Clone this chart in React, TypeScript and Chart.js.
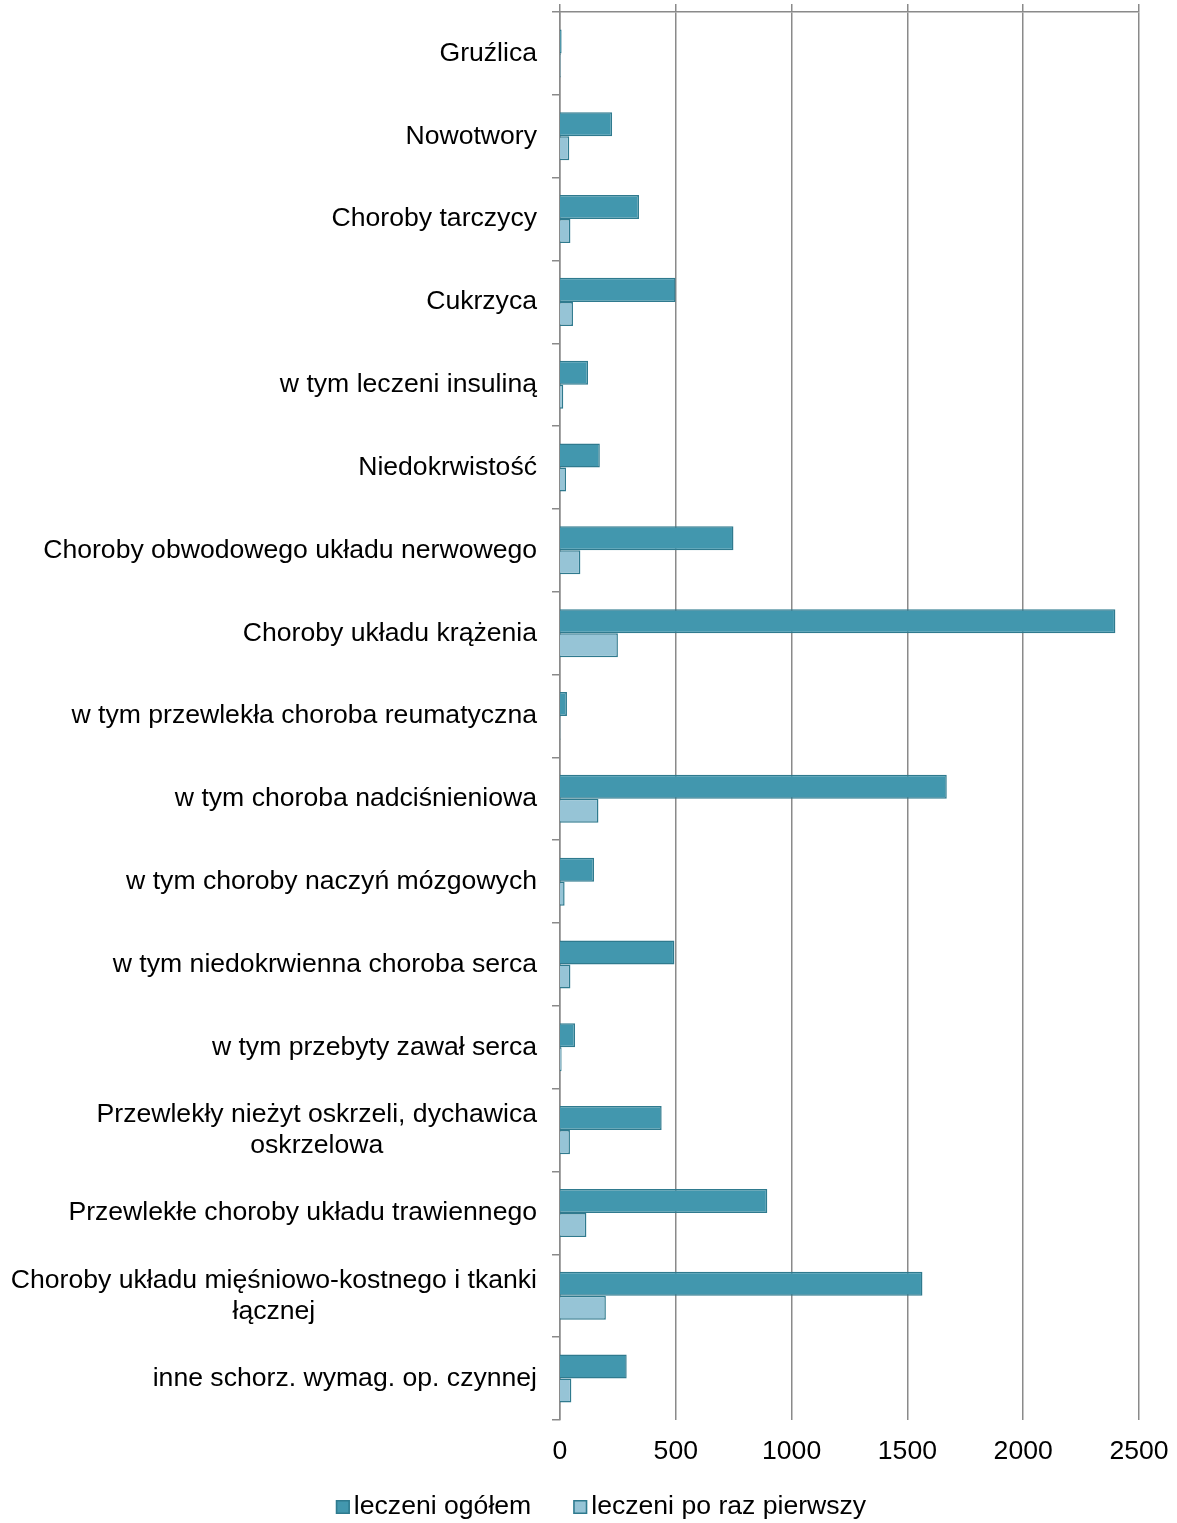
import React, { useEffect, useRef } from "react";
import { Chart, registerables } from "chart.js";

Chart.register(...registerables);

const categories: (string | string[])[] = [
  "Gruźlica",
  "Nowotwory",
  "Choroby tarczycy",
  "Cukrzyca",
  "w tym leczeni insuliną",
  "Niedokrwistość",
  "Choroby obwodowego układu nerwowego",
  "Choroby układu krążenia",
  "w tym przewlekła choroba reumatyczna",
  "w tym choroba nadciśnieniowa",
  "w tym choroby naczyń mózgowych",
  "w tym niedokrwienna choroba serca",
  "w tym przebyty zawał serca",
  ["Przewlekły nieżyt oskrzeli, dychawica", "oskrzelowa"],
  "Przewlekłe choroby układu trawiennego",
  ["Choroby układu mięśniowo-kostnego i tkanki", "łącznej"],
  "inne schorz. wymag. op. czynnej",
];

const leczeniOgolem = [7, 225, 341, 499, 121, 172, 749, 2398, 30, 1670, 147, 494, 65, 439, 895, 1565, 288];
const leczeniPoRazPierwszy = [3, 40, 45, 56, 14, 26, 88, 250, 2, 166, 20, 45, 7, 43, 114, 198, 49];

const seriesNames = ["leczeni ogółem", "leczeni po raz pierwszy"];
const xTicks = [0, 500, 1000, 1500, 2000, 2500];

const DARK = "#4297ae";
const LIGHT = "#96c4d6";
const BORDER = "#2f7a8e";
const GRID = "#8a8a8a";
const FONT = "'Liberation Sans', Arial, sans-serif";
const FSIZE = 26.6;

const labelPlugin = {
  id: "customLabels",
  afterDraw(chart: any) {
    const ctx = chart.ctx;
    const yScale = chart.scales.y;
    ctx.save();
    ctx.font = `${FSIZE}px ${FONT}`;
    ctx.fillStyle = "#000";
    ctx.textBaseline = "middle";
    ctx.textAlign = "center";
    const right = chart.chartArea.left - 23;
    const lh = 31;
    categories.forEach((lab, i) => {
      const lines = Array.isArray(lab) ? lab : [lab];
      const maxW = Math.max(...lines.map((l) => ctx.measureText(l).width));
      const cx = right - maxW / 2;
      const yc = yScale.getPixelForValue(i);
      lines.forEach((l, k) => {
        const y = yc - ((lines.length - 1) * lh) / 2 + k * lh;
        ctx.fillText(l, cx, y);
      });
    });

    // legend
    const colors = [DARK, LIGHT];
    const box = 14;
    const gap = 4;
    const itemGap = 42;
    const widths = seriesNames.map((n) => ctx.measureText(n).width);
    const total = widths.reduce((a, w) => a + box + gap + w, 0) + itemGap * (seriesNames.length - 1);
    let x = 601 - total / 2;
    const ly = 1507;
    ctx.textAlign = "left";
    seriesNames.forEach((n, i) => {
      ctx.fillStyle = colors[i];
      ctx.fillRect(x, ly - box / 2, box, box);
      ctx.strokeStyle = BORDER;
      ctx.lineWidth = 1.5;
      ctx.strokeRect(x + 0.75, ly - box / 2 + 0.75, box - 1.5, box - 1.5);
      ctx.fillStyle = "#000";
      ctx.fillText(n, x + box + gap, ly);
      x += box + gap + widths[i] + itemGap;
    });
    ctx.restore();
  },
};

export default function App() {
  const ref = useRef<HTMLCanvasElement | null>(null);
  useEffect(() => {
    if (!ref.current) return;
    const chart = new Chart(ref.current, {
      type: "bar",
      data: {
        labels: categories.map((c) => (Array.isArray(c) ? c.join(" ") : c)),
        datasets: [
          {
            label: seriesNames[0],
            data: leczeniOgolem,
            backgroundColor: DARK,
            borderColor: BORDER,
            borderWidth: 1.5,
            categoryPercentage: 0.58,
            barPercentage: 1,
            xAxisID: "x",
          },
          {
            label: seriesNames[1],
            data: leczeniPoRazPierwszy,
            backgroundColor: LIGHT,
            borderColor: BORDER,
            borderWidth: 1.5,
            categoryPercentage: 0.58,
            barPercentage: 1,
            xAxisID: "x",
          },
        ],
      },
      options: {
        indexAxis: "y",
        animation: false,
        responsive: false,
        maintainAspectRatio: false,
        layout: { padding: { top: 4, right: 38, left: 0, bottom: 0 } },
        plugins: {
          legend: { display: false },
          tooltip: { enabled: false },
        },
        scales: {
          x: {
            type: "linear",
            position: "bottom",
            min: 0,
            max: 2500,
            afterBuildTicks: (s: any) => {
              s.ticks = xTicks.map((v) => ({ value: v }));
            },
            afterFit: (s: any) => {
              s.height = 103;
              s.paddingLeft = 0;
              s.paddingRight = 0;
            },
            grid: { display: false, drawTicks: false },
            border: { display: false },
            ticks: {
              font: { size: FSIZE, family: FONT },
              color: "#000",
              padding: 16,
              maxRotation: 0,
              callback: (v: any) => String(v),
            },
          },
          x2: {
            type: "linear",
            position: "top",
            min: 0,
            max: 2500,
            afterBuildTicks: (s: any) => {
              s.ticks = xTicks.map((v) => ({ value: v }));
            },
            afterFit: (s: any) => {
              s.paddingLeft = 0;
              s.paddingRight = 0;
            },
            grid: {
              color: GRID,
              lineWidth: 1.5,
              drawTicks: true,
              tickLength: 8,
            },
            border: { display: true, color: GRID, width: 1.5 },
            ticks: { display: false },
          },
          y: {
            type: "category",
            position: "left",
            afterFit: (s: any) => {
              s.width = 560;
            },
            grid: {
              offset: true,
              drawOnChartArea: false,
              drawTicks: true,
              tickLength: 8,
              color: GRID,
              lineWidth: 1.5,
            },
            border: { display: true, color: GRID, width: 1.5 },
            ticks: { display: false },
          },
        },
      },
      plugins: [labelPlugin],
    } as any);
    return () => chart.destroy();
  }, []);
  return (
    <div style={{ position: "absolute", left: 0, top: 0, width: 1177, height: 1523 }}>
      <canvas ref={ref} width={1177} height={1523} style={{ width: 1177, height: 1523, display: "block" }} />
    </div>
  );
}
